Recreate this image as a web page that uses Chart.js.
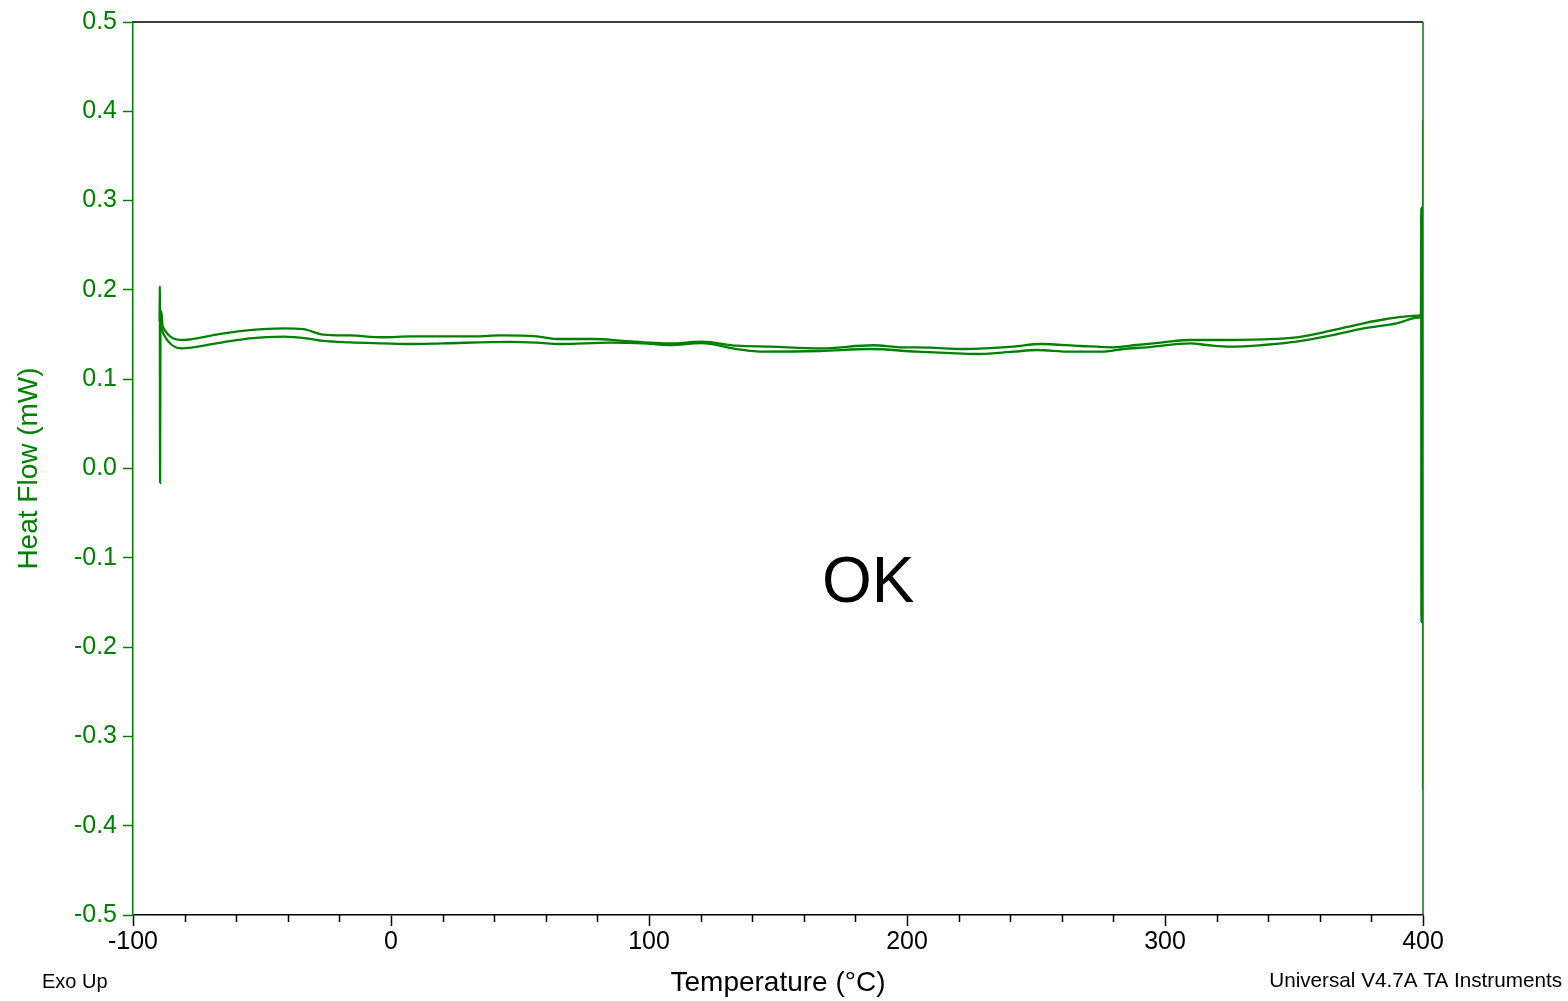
<!DOCTYPE html>
<html>
<head>
<meta charset="utf-8">
<script src="https://cdn.jsdelivr.net/npm/chart.js@4.4.1/dist/chart.umd.min.js"></script>
<style>
  html, body { margin: 0; padding: 0; background: #fff; }
  #wrap { width: 1568px; height: 1001px; position: relative; }
</style>
</head>
<body>
<div id="wrap"><canvas id="dsc"></canvas></div>
<script>
  // upper trace (temperature °C, heat flow mW), incl. start/end transients
  const upperT  = [-89.7, -89.6, -89.5, -89.35, -89.0, -88.5, -80.5, -67.6, -54.7, -41.7, -34.0, -26.2, -15.9, -3.0, 7.4,
                   33.2, 42.2, 56.5, 64.2, 78.4, 90.0, 100.4, 108.1, 120.4, 134.0, 146.9, 166.3, 186.9, 196.0, 208.9,
                   221.8, 241.2, 251.6, 267.1, 280.0, 289.0, 299.3, 309.7, 318.7, 338.1, 351.0, 363.9, 376.9, 385.9,
                   398.2, 399.2, 399.35, 399.45, 399.55];
  const upperHF = [0.165, 0.204, -0.016, 0.165, 0.176, 0.159, 0.144, 0.150, 0.155, 0.157, 0.156, 0.150, 0.149, 0.147, 0.148,
                   0.148, 0.149, 0.148, 0.145, 0.145, 0.143, 0.141, 0.140, 0.142, 0.1375, 0.1365, 0.1346, 0.138, 0.136, 0.1353,
                   0.1338, 0.1364, 0.1394, 0.1372, 0.1357, 0.1383, 0.1413, 0.1439, 0.1439, 0.1447, 0.1469, 0.154, 0.1626, 0.1674,
                   0.1711, 0.172, 0.292, -0.172, 0.17];

  // lower trace
  const lowerT  = [-89.2, -88.3, -81.1, -67.6, -54.7, -41.7, -32.7, -26.2, -15.9, -3.0, 7.4, 20.3, 46.1, 56.5, 65.5,
                   84.9, 97.8, 108.1, 120.4, 134.0, 144.3, 166.3, 185.7, 203.8, 219.3, 228.3, 241.2, 250.3, 263.2,
                   276.1, 283.8, 292.9, 309.7, 316.2, 325.2, 338.1, 351.0, 363.9, 376.9, 389.8, 398.2, 399.25, 399.4,
                   399.5, 399.65];
  const lowerHF = [0.160, 0.1514, 0.1346, 0.1402, 0.1458, 0.1476, 0.1458, 0.1428, 0.1413, 0.1402, 0.1394, 0.1402, 0.1417, 0.1409, 0.1394,
                   0.1409, 0.1402, 0.1383, 0.1405, 0.1338, 0.1308, 0.1316, 0.1338, 0.1308, 0.129, 0.1282, 0.1308, 0.1327, 0.1308,
                   0.1308, 0.1338, 0.1357, 0.1402, 0.1383, 0.1364, 0.1383, 0.142, 0.1487, 0.157, 0.1626, 0.1689, 0.170, 0.285,
                   -0.165, 0.20];

  // faint end-of-run excursion at 400 °C
  const tailT  = [399.8, 399.8];
  const tailHF = [0.39, -0.36];

  const yTicks = [-0.5, -0.4, -0.3, -0.2, -0.1, 0.0, 0.1, 0.2, 0.3, 0.4, 0.5];
  const xMinorStep = 20;

  const GREEN = '#008000';
  const FONT = '"Liberation Sans", Arial, sans-serif';

  const toPts = (xs, ys) => xs.map((x, i) => ({ x: x, y: ys[i] }));

  const decor = {
    id: 'decor',
    afterDraw(chart) {
      const { ctx, chartArea: a, scales } = chart;
      ctx.save();
      // top and right frame
      ctx.lineWidth = 1.5;
      ctx.strokeStyle = '#000';
      ctx.beginPath(); ctx.moveTo(a.left, a.top); ctx.lineTo(a.right, a.top); ctx.stroke();
      ctx.strokeStyle = GREEN;
      ctx.beginPath(); ctx.moveTo(a.right, a.top); ctx.lineTo(a.right, a.bottom); ctx.stroke();

      // minor ticks on temperature axis
      ctx.strokeStyle = '#000';
      ctx.lineWidth = 1.5;
      const xs = scales.x;
      for (let v = xs.min; v <= xs.max; v += xMinorStep) {
        if (v % 100 === 0) continue;
        const px = Math.round(xs.getPixelForValue(v)) + 0.5;
        ctx.beginPath(); ctx.moveTo(px, a.bottom); ctx.lineTo(px, a.bottom + 7); ctx.stroke();
      }

      // sample note
      ctx.fillStyle = '#000';
      ctx.font = '64px ' + FONT;
      ctx.textAlign = 'center';
      ctx.textBaseline = 'middle';
      ctx.fillText('OK', xs.getPixelForValue(185), scales.y.getPixelForValue(-0.13));

      // footer text
      ctx.font = '20px ' + FONT;
      ctx.textAlign = 'left';
      ctx.fillText('Exo Up', 42, 982);
      ctx.font = '20.7px ' + FONT;
      ctx.textAlign = 'right';
      ctx.fillText('Universal V4.7A TA Instruments', 1562, 981);
      ctx.restore();
    }
  };

  const lineStyle = { showLine: true, borderColor: GREEN, borderWidth: 2.3, pointRadius: 0, cubicInterpolationMode: 'monotone' };

  new Chart(document.getElementById('dsc'), {
    type: 'scatter',
    data: {
      datasets: [
        Object.assign({ data: toPts(upperT, upperHF) }, lineStyle),
        Object.assign({ data: toPts(lowerT, lowerHF) }, lineStyle),
        { data: toPts(tailT, tailHF), showLine: true, borderColor: 'rgba(0,100,0,0.45)', borderWidth: 1, pointRadius: 0 }
      ]
    },
    options: {
      responsive: true,
      maintainAspectRatio: false,
      animation: false,
      layout: { padding: { top: 22, right: 145, left: 0, bottom: 0 } },
      plugins: { legend: { display: false }, tooltip: { enabled: false } },
      scales: {
        x: {
          type: 'linear',
          min: -100, max: 400,
          afterFit: s => { s.height = 86; },
          border: { display: true, color: '#000', width: 1.5 },
          grid: { drawOnChartArea: false, drawTicks: true, tickLength: 11, tickColor: '#000', tickWidth: 1.5 },
          ticks: { stepSize: 100, color: '#000', padding: 1, font: { family: FONT, size: 25 }, maxRotation: 0 },
          title: { display: true, text: 'Temperature (°C)', color: '#000', font: { family: FONT, size: 28 }, padding: { top: 0, bottom: 1 } }
        },
        y: {
          min: -0.5, max: 0.5,
          afterFit: s => { s.width = 133; },
          afterBuildTicks: s => { s.ticks = yTicks.map(v => ({ value: v })); },
          border: { display: true, color: GREEN, width: 1.5 },
          grid: { drawOnChartArea: false, drawTicks: true, tickLength: 10, tickColor: GREEN, tickWidth: 1.5 },
          ticks: { color: GREEN, padding: 6, font: { family: FONT, size: 25 }, callback: v => Number(v).toFixed(1) },
          title: { display: true, text: 'Heat Flow (mW)', color: GREEN, font: { family: FONT, size: 28 }, padding: { top: 12, bottom: 0 } }
        }
      }
    },
    plugins: [decor]
  });
</script>
</body>
</html>
